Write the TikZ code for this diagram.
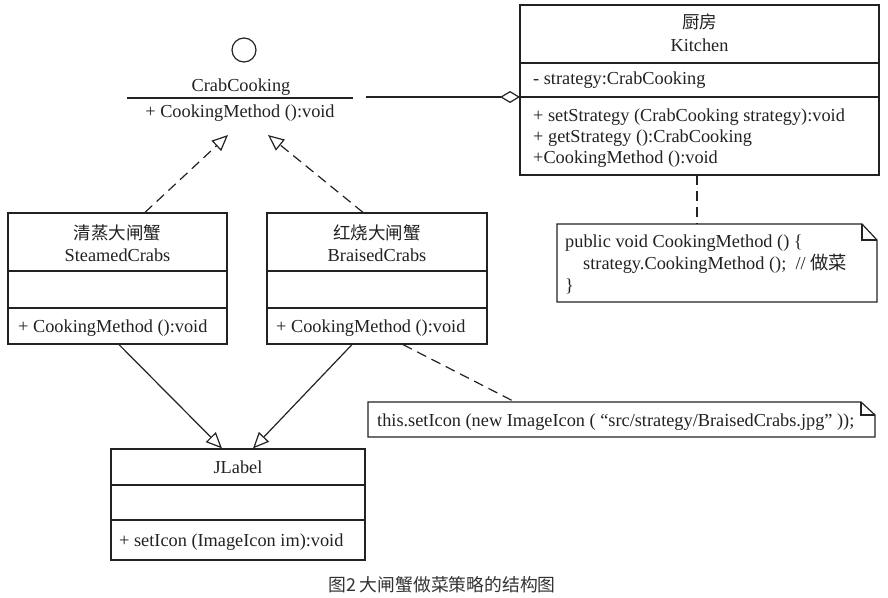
\documentclass[tikz,border=0pt]{standalone}
\usepackage{fontspec}
\setmainfont{Liberation Serif}
\newfontfamily\cjk{Noto Sans CJK SC}
\usetikzlibrary{arrows.meta}
\definecolor{ink}{HTML}{222222}
\tikzset{
  ln/.style={draw=ink, line width=1.2pt},
  umlbox/.style={ln, rectangle, inner sep=0pt, fill=white},
  txt/.style={inner sep=0pt, text=ink, font=\fontsize{18.3}{21}\selectfont},
  cjktxt/.style={inner sep=0pt, text=ink, font=\fontsize{17.5}{21}\selectfont\cjk},
  dsh/.style={ln, dash pattern=on 10pt off 6pt},
  realize/.style={dsh, -{Triangle[open, length=16pt, width=14pt]}},
  assoc/.style={ln, -{Triangle[open, length=16pt, width=14pt]}},
  agg/.style={ln, {Diamond[open, length=20pt, width=12pt]}-},
}
\begin{document}
\begin{tikzpicture}[x=1pt, y=-1pt]
\useasboundingbox (0,0) rectangle (888,597);

% Interface CrabCooking
\node[ln, circle, minimum size=24pt, inner sep=0pt] (icircle) at (244,50) {};
\node[txt, anchor=base] (iname) at (241,91) {CrabCooking};
\coordinate (ilineL) at (127,98);
\coordinate (ilineR) at (353,98);
\draw[ln] (ilineL) -- (ilineR);
\node[txt, anchor=base] (imeth) at (240,117) {+ CookingMethod ():void};
\coordinate (itipL) at (228,135);
\coordinate (itipR) at (268,135);
\coordinate (aggstart) at (366,97);

% Kitchen
\node[umlbox, minimum width=359pt, minimum height=170pt] (kitchen) at (699.5,90) {};
\draw[ln] (520,63) -- (879,63);
\draw[ln] (520,97) -- (879,97);
\node[cjktxt, anchor=center] (kcn) at (699.5,22) {厨房};
\node[txt, anchor=base] (ken) at (699.5,51) {Kitchen};
\node[txt, anchor=base west] (katt) at (533,84) {- strategy:CrabCooking};
\node[txt, anchor=base west] (km1) at (533,121) {+ setStrategy (CrabCooking strategy):void};
\node[txt, anchor=base west] (km2) at (533,142) {+ getStrategy ():CrabCooking};
\node[txt, anchor=base west] (km3) at (533,163) {+CookingMethod ():void};
\coordinate (kagg) at (520,97);
\draw[agg] (kagg) -- (aggstart);

% Note 1
\coordinate (n1a) at (557,224);
\coordinate (n1b) at (862,224);
\coordinate (n1c) at (877,240);
\coordinate (n1d) at (877,302);
\coordinate (n1e) at (557,302);
\draw[ln, fill=white] (n1a) -- (n1b) -- (n1c) -- (n1d) -- (n1e) -- cycle;
\draw[ln] (n1b) -- (862,240) -- (n1c);
\node[txt, anchor=base west] (n1t1) at (565,247) {public void CookingMethod () \{};
\node[txt, anchor=base west] (n1t2) at (583,269) {strategy.CookingMethod ();\ \ // {\cjk 做菜}};
\node[txt, anchor=base west] (n1t3) at (565,291) {\}};
\coordinate (kbot) at (697,175);
\coordinate (n1top) at (697,224);
\draw[dsh] (kbot) -- (n1top);

% SteamedCrabs
\node[umlbox, minimum width=219pt, minimum height=131pt] (steamed) at (117.5,278.5) {};
\draw[ln] (8,271) -- (227,271);
\draw[ln] (8,308) -- (227,308);
\node[cjktxt, anchor=center] (scn) at (117.5,233) {清蒸大闸蟹};
\node[txt, anchor=base] (sen) at (117.5,261) {SteamedCrabs};
\node[txt, anchor=base west] (smeth) at (18,332) {+ CookingMethod ():void};

% BraisedCrabs
\node[umlbox, minimum width=220pt, minimum height=131pt] (braised) at (377,278.5) {};
\draw[ln] (267,271) -- (487,271);
\draw[ln] (267,308) -- (487,308);
\node[cjktxt, anchor=center] (bcn) at (377,233) {红烧大闸蟹};
\node[txt, anchor=base] (ben) at (377,261) {BraisedCrabs};
\node[txt, anchor=base west] (bmeth) at (276,332) {+ CookingMethod ():void};

% Realization arrows
\draw[realize] (steamed.north -| 145,0) -- (itipL);
\draw[realize] (braised.north -| 363,0) -- (itipR);

% JLabel
\node[umlbox, minimum width=254pt, minimum height=111pt] (jlabel) at (238,504.5) {};
\draw[ln] (111,485) -- (365,485);
\draw[ln] (111,520) -- (365,520);
\node[txt, anchor=base] (jname) at (238,473) {JLabel};
\node[txt, anchor=base west] (jmeth) at (119,546) {+ setIcon (ImageIcon im):void};

\draw[assoc] (steamed.south -| 119,0) -- (jlabel.north -| 222,0);
\draw[assoc] (braised.south -| 352,0) -- (jlabel.north -| 253,0);

% Note 2
\coordinate (n2a) at (368,402);
\coordinate (n2b) at (861,402);
\coordinate (n2c) at (875,415);
\coordinate (n2d) at (875,437);
\coordinate (n2e) at (368,437);
\draw[ln, fill=white] (n2a) -- (n2b) -- (n2c) -- (n2d) -- (n2e) -- cycle;
\draw[ln] (n2b) -- (861,415) -- (n2c);
\node[txt, anchor=base west] (n2t) at (377,426) {this.setIcon (new ImageIcon ( “src/strategy/BraisedCrabs.jpg” ));};
\coordinate (n2top) at (515,402);
\draw[dsh] (braised.south -| 403,0) -- (n2top);

% Caption
\node[inner sep=0pt, text=black!80, font=\fontsize{17.8}{21}\selectfont\cjk, anchor=center] (caption) at (442,585) {图2 大闸蟹做菜策略的结构图};
\end{tikzpicture}
\end{document}
